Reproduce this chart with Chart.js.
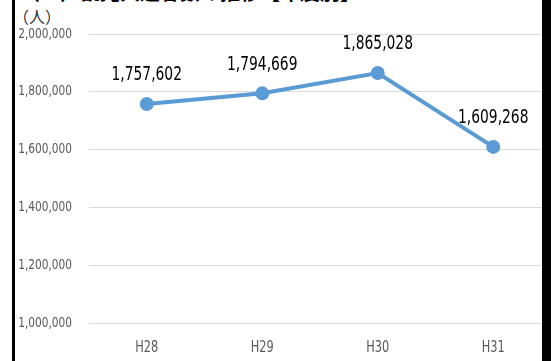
<!DOCTYPE html>
<html lang="ja">
<head>
<meta charset="utf-8">
<script src="https://cdn.jsdelivr.net/npm/chart.js@4.4.1/dist/chart.umd.min.js"></script>
<style>
  html, body { margin: 0; padding: 0; background: #fff; overflow: hidden; }
  body { width: 551px; height: 361px; position: relative; }
  #title {
    position: absolute; left: 20px; top: -23px; white-space: nowrap;
    font: bold 20px "Noto Sans CJK JP", sans-serif; color: #000;
  }
  #unit {
    position: absolute; left: 13px; top: 4px;
    font: 16px "Noto Sans CJK JP", sans-serif; color: #333;
  }
  #wrap { position: absolute; left: 0; top: 0; width: 560px; height: 361px; }
  .bar { position: absolute; top: 0; height: 361px; background: #000; }
</style>
</head>
<body>
<div id="title">（１）観光入込客数の推移【年度別】</div>
<div id="unit">（人）</div>
<div id="wrap"><canvas id="visitorsChart"></canvas></div>
<div class="bar" style="left:12px;width:3px"></div>
<div class="bar" style="left:542px;width:9px"></div>

<script>
// 年度ごとの人数
const years = ['H28', 'H29', 'H30', 'H31'];
const visitors = [1757602, 1794669, 1865028, 1609268];
const yTicks = [1000000, 1200000, 1400000, 1600000, 1800000, 2000000];

const narrow = '"DejaVu Sans Condensed", "Liberation Sans", sans-serif';
const fmt = v => v.toLocaleString('en-US');

// 横方向を詰めて文字を描く
function squeezed(ctx, text, x, y, sx) {
    ctx.save();
    ctx.translate(x, y);
    ctx.scale(sx, 1);
    ctx.fillText(text, 0, 0);
    ctx.restore();
}

// 軸ラベルと各点の数値
const textLayer = {
    id: 'textLayer',
    afterDraw(chart) {
        const ctx = chart.ctx;
        const { x, y } = chart.scales;
        ctx.save();
        ctx.textBaseline = 'middle';

        ctx.fillStyle = '#595959';
        ctx.font = '14px ' + narrow;
        ctx.textAlign = 'right';
        y.ticks.forEach(t => squeezed(ctx, fmt(t.value), 72, y.getPixelForValue(t.value), 0.84));

        ctx.font = '15px ' + narrow;
        ctx.textAlign = 'center';
        x.ticks.forEach((t, i) => squeezed(ctx, years[t.value], x.getPixelForTick(i), chart.chartArea.bottom + 25, 0.84));

        ctx.fillStyle = '#000';
        ctx.font = '20px ' + narrow;
        chart.getDatasetMeta(0).data.forEach((pt, i) => {
            squeezed(ctx, fmt(visitors[i]), pt.x, pt.y - 29, 0.77);
        });
        ctx.restore();
    }
};

const ctx = document.getElementById('visitorsChart').getContext('2d');

new Chart(ctx, {
    type: 'line',
    data: {
        labels: years,
        datasets: [{
            data: visitors,
            borderColor: '#5B9BD5',
            backgroundColor: '#5B9BD5',
            borderWidth: 4,
            pointRadius: 5,
            pointHoverRadius: 5,
            tension: 0
        }]
    },
    options: {
        responsive: true,
        maintainAspectRatio: false,
        animation: false,
        layout: { padding: { top: 34, right: 4, bottom: 0, left: 0 } },
        scales: {
            x: {
                offset: true,
                grid: { display: false },
                border: { display: false },
                ticks: { display: false },
                afterFit(scale) { scale.height = 38; }
            },
            y: {
                min: 1000000,
                max: 2000000,
                afterBuildTicks(scale) {
                    scale.ticks = yTicks.map(v => ({ value: v }));
                },
                grid: { color: '#d9d9d9', lineWidth: 1, drawTicks: false },
                border: { display: false },
                ticks: { display: false },
                afterFit(scale) { scale.width = 89; }
            }
        },
        plugins: {
            legend: { display: false },
            tooltip: { enabled: false }
        }
    },
    plugins: [textLayer]
});
</script>
</body>
</html>
